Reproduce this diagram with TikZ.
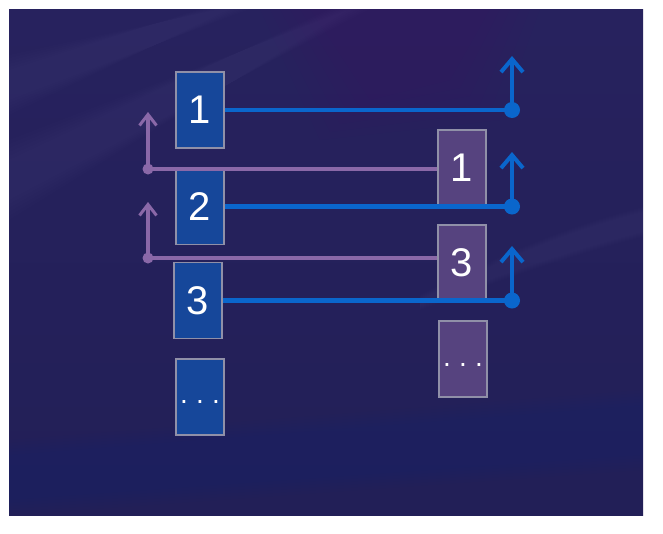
\documentclass[tikz,border=0pt]{standalone}
\usepackage{fontspec}
\setmainfont{Liberation Sans}
\usetikzlibrary{arrows.meta}
\definecolor{bgA}{HTML}{27225E}
\definecolor{bgB}{HTML}{221F57}
\definecolor{lfill}{HTML}{16479A}
\definecolor{rfill}{HTML}{56437F}
\definecolor{edgec}{HTML}{9090A8}
\definecolor{bluel}{HTML}{0A66CC}
\definecolor{purpl}{HTML}{8A68A8}
\tikzset{
  lbox/.style={draw=edgec, line width=1.3pt, fill=lfill, minimum width=48pt, minimum height=76pt, inner sep=0pt, text=white, font=\fontsize{40}{44}\selectfont},
  rbox/.style={lbox, fill=rfill},
  ell/.style={inner sep=0pt, text=white, font=\fontsize{28}{30}\selectfont},
  bline/.style={draw=bluel, line width=4.6pt},
  barrow/.style={draw=bluel, line width=4.6pt, -{Straight Barb[length=13pt,width=22pt,line width=4pt]}},
  pline/.style={draw=purpl, line width=3.4pt},
  parrow/.style={draw=purpl, line width=3.4pt, -{Straight Barb[length=11pt,width=17pt,line width=3pt]}},
  bdot/.style={circle, fill=bluel, minimum size=16pt, inner sep=0pt},
  pdot/.style={circle, fill=purpl, minimum size=11pt, inner sep=0pt}
}
\begin{document}
\begin{tikzpicture}[x=1pt,y=-1pt]
\useasboundingbox (0,0) rectangle (663,533);
\fill[white] (0,0) rectangle (663,533);
\shade[top color=bgA, bottom color=bgB] (9,9) rectangle (643,515);
% faint streaks
\begin{scope}
\clip (9,9) rectangle (643,515);
\foreach \k in {0,...,5}{
  \fill[white, opacity=0.008] (9,70-\k*3) -- (200+\k*4,9) -- (250-\k*4,9) -- (9,100+\k*3) -- cycle;
  \fill[white, opacity=0.007] (9,160-\k*4) -- (330+\k*4,9) -- (370-\k*4,9) -- (9,200+\k*4) -- cycle;
  \fill[purple!60!blue, opacity=0.015] (260+\k*10,9) -- (540-\k*10,9) -- (500-\k*10,120-\k*8) -- (320+\k*10,140-\k*8) -- cycle;
  \fill[white, opacity=0.008] (420,300-\k) .. controls (520,250-\k) and (580,228-\k) .. (643,212-\k) -- (643,232+\k) .. controls (580,248+\k) and (520,268+\k) .. (420,305+\k) -- cycle;
  \fill[blue!60!cyan, opacity=0.008] (9,440+\k*3) -- (643,390+\k*3) -- (643,470-\k*3) -- (9,515-\k*3) -- cycle;
}
\end{scope}
% left boxes
\node[lbox] (l1) at (200,110) {1};
\node[lbox] (l2) at (200,206.5) {2};
\node[lbox] (l3) at (198,300.5) {3};
\node[lbox] (l4) at (200,397) {};
\node[ell] (l4t) at (200,402) {.\hspace{8.2pt}.\hspace{8.2pt}.};
% right boxes
\node[rbox] (r1) at (462,168) {1};
\node[rbox] (r3) at (462,263) {3};
\node[rbox] (r4) at (463,359) {};
\node[ell] (r4t) at (463,365) {.\hspace{8.2pt}.\hspace{8.2pt}.};
% blue connectors
\node[bdot] (bd1) at (512,110) {};
\node[bdot] (bd2) at (512,206.5) {};
\node[bdot] (bd3) at (512,300.5) {};
\coordinate (ba1) at (512,56);
\coordinate (ba2) at (512,152);
\coordinate (ba3) at (512,246);
\draw[bline] (l1.east) -- (bd1.center);
\draw[bline] (l2.east) -- (bd2.center);
\draw[bline] (l3.east) -- (bd3.center);
\draw[barrow] (bd1.center) -- (ba1);
\draw[barrow] (bd2.center) -- (ba2);
\draw[barrow] (bd3.center) -- (ba3);
% purple connectors
\node[pdot] (pd1) at (148,169) {};
\node[pdot] (pd2) at (148,258) {};
\coordinate (pa1) at (148,112);
\coordinate (pa2) at (148,202);
\draw[pline] (pd1.center) -- (pd1 -| r1.west);
\draw[pline] (pd2.center) -- (pd2 -| r3.west);
\draw[parrow] (pd1.center) -- (pa1);
\draw[parrow] (pd2.center) -- (pa2);
\end{tikzpicture}
\end{document}
